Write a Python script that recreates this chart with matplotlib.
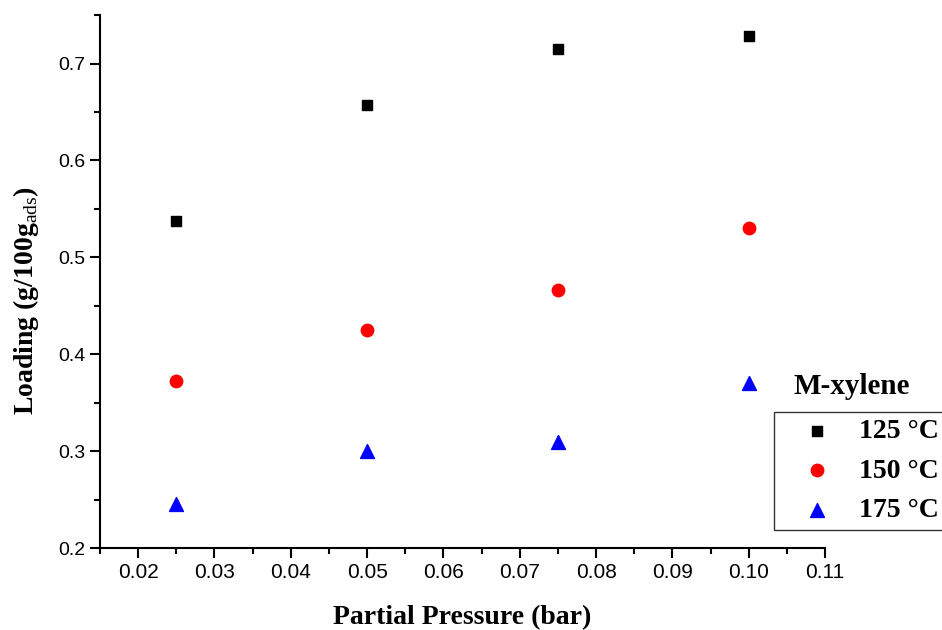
import matplotlib
matplotlib.use('Agg')
import matplotlib.pyplot as plt
from matplotlib.ticker import MultipleLocator

# data
pressure = [0.025, 0.05, 0.075, 0.10]
load_125 = [0.538, 0.657, 0.715, 0.728]
load_150 = [0.372, 0.425, 0.466, 0.530]
load_175 = [0.245, 0.300, 0.309, 0.370]
labels = ['125 °C', '150 °C', '175 °C']
xticks = [0.02, 0.03, 0.04, 0.05, 0.06, 0.07, 0.08, 0.09, 0.10, 0.11]
xticklabels = ['0.02', '0.03', '0.04', '0.05', '0.06', '0.07', '0.08', '0.09', '0.10', '0.11']

plt.rcParams['mathtext.fontset'] = 'custom'
plt.rcParams['mathtext.rm'] = 'Liberation Serif'
plt.rcParams['mathtext.bf'] = 'Liberation Serif:bold'

fig = plt.figure(figsize=(9.42, 6.3), dpi=100)
ax = fig.add_axes([0.106, 0.130, 0.770, 0.846])

ax.scatter(pressure, load_125, marker='s', s=60, color='black', label=labels[0], zorder=3)
ax.scatter(pressure, load_150, marker='o', s=80, color='red', label=labels[1], zorder=3)
ax.scatter(pressure, load_175, marker='^', s=100, color='blue', label=labels[2], zorder=3)

ax.set_xlim(0.015, 0.11)
ax.set_ylim(0.2, 0.75)
ax.xaxis.set_minor_locator(MultipleLocator(0.005))
ax.yaxis.set_major_locator(MultipleLocator(0.1))
ax.yaxis.set_minor_locator(MultipleLocator(0.05))
ax.set_xticks(xticks)
ax.set_xticklabels(xticklabels)

for s in ['top', 'right']:
    ax.spines[s].set_visible(False)
for s in ['left', 'bottom']:
    ax.spines[s].set_linewidth(1.5)

ax.tick_params(which='major', direction='out', length=7, width=1.5)
ax.tick_params(which='minor', direction='out', length=4, width=1.5)
for t in ax.get_xticklabels():
    t.set_fontfamily(['Liberation Sans Narrow', 'Liberation Sans'])
    t.set_fontsize(15)
for t in ax.get_yticklabels():
    t.set_fontfamily('Liberation Sans')
    t.set_fontsize(14)

ax.set_xlabel('Partial Pressure (bar)', fontfamily='Liberation Serif', fontweight='bold', fontsize=20, labelpad=17)
ax.set_ylabel(r'Loading (g/100g$_{\mathrm{ads}}$)', fontfamily='Liberation Serif', fontweight='bold', fontsize=20)
ax.yaxis.set_label_coords(-0.081, 0.465)

leg = ax.legend(loc='upper left', bbox_to_anchor=(774 / 942, 1 - 412 / 630), bbox_transform=fig.transFigure,
                prop={'family': 'Liberation Serif', 'weight': 'bold', 'size': 20},
                frameon=True, fancybox=False, edgecolor='black', handlelength=2.6, handletextpad=0.2,
                borderpad=0.25, labelspacing=0.5, borderaxespad=0)
leg.get_frame().set_linewidth(1.0)
fig.text(852 / 942, 1 - 387 / 630, 'M-xylene', ha='center', va='center',
         fontfamily='Liberation Serif', fontweight='bold', fontsize=21)

fig.savefig('out.png', dpi=100)
